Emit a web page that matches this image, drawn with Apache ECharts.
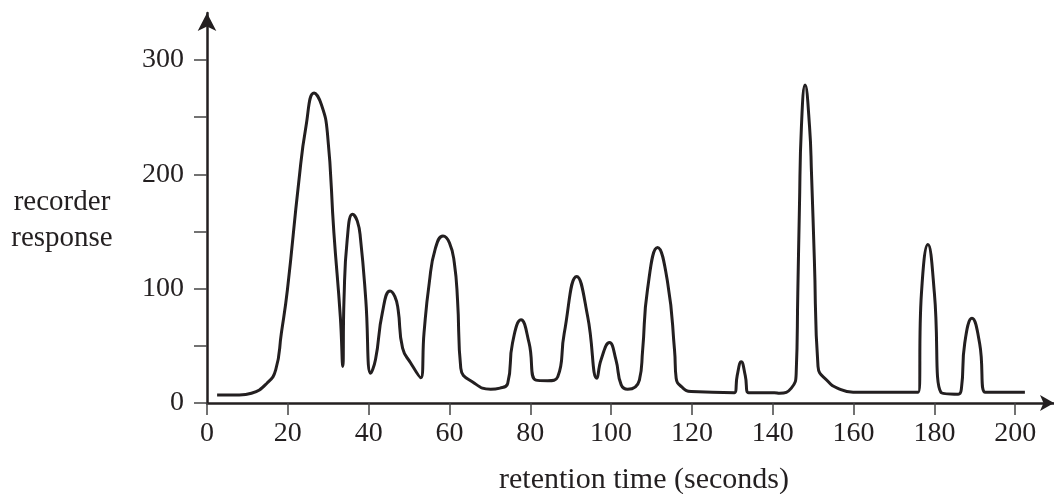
<!DOCTYPE html>
<html>
<head>
    <meta charset="utf-8">
    <script src="https://cdn.jsdelivr.net/npm/echarts@6/dist/echarts.min.js"></script>
    <style>
        html, body { margin: 0; padding: 0; background: #fff; }
        #chart { width: 1054px; height: 494px; }
    </style>
</head>
<body>
    <div id="chart"></div>
    <script type="text/javascript">
        // retention time (s) and recorder response
        var times = [
            2.5, 8, 11, 14.9, 17, 18.4, 19.9, 22.7, 24.5, 26.5, 28.3, 29.8, 31.4, 33, 33.6,
            33.9, 34.7, 36, 37.2, 38, 39.3, 40.5,
            41.7, 43.4, 45.3, 46.5, 47.3, 48.4, 50.4, 52.9,
            53.7, 55, 56.5, 58.4, 60, 61.2, 62, 62.8,
            66.1, 70.2, 72.5, 74.4,
            75.6, 77.7, 79.7, 81.4, 84.3, 86.8,
            88.4, 91.5, 94.2, 96.5,
            97.5, 99.6, 101.2, 102.5, 104.1, 107,
            107.8, 109, 111.5, 114, 115.7, 116.1, 117.5, 119.8, 130.5,
            131.2, 132.2, 133.2, 134, 140.4, 141.7, 144.6, 145.8,
            146.2, 146.6, 147.1, 148, 149.1, 149.6, 150.3, 151.2, 153.7, 156, 159.9, 176,
            176.8, 178.4, 180, 181.6, 185.9, 186.7, 187.5, 189.3, 191.2, 192.6, 202.4
        ];
        var response = [
            7, 7, 8.5, 17.5, 29, 61, 99, 193, 242, 271, 261, 236, 149, 75, 32,
            90, 143, 165, 159, 143, 90, 26,
            38, 79, 98, 93, 81.5, 48, 35, 22,
            61, 105, 135, 146, 140, 122.6, 90, 30.5,
            17.5, 12, 13, 17,
            52.5, 72.7, 52.5, 20, 19.5, 23,
            61, 110.7, 75.6, 21.6,
            37.7, 52.8, 37.7, 15.8, 12, 20,
            46, 99, 136, 105, 46, 21.6, 14, 10, 9,
            24, 36, 24, 9, 9, 8.5, 13, 26,
            96, 170, 242, 278, 242, 200, 125, 32, 18.7, 13, 9.4, 9.4,
            96, 138.5, 96, 9.3, 7.6, 13, 52, 74, 52, 9.4, 9.4
        ];
        var xTicks = [0, 20, 40, 60, 80, 100, 120, 140, 160, 180, 200];
        var yTicks = [0, 50, 100, 150, 200, 250, 300];
        var yLabels = [0, 100, 200, 300];

        var points = [];
        for (var i = 0; i < times.length; i++) {
            points.push([times[i], response[i]]);
        }

        var ink = '#231f20';
        var font = 'Liberation Serif';

        var myChart = echarts.init(document.getElementById('chart'));
        var option = {
            animation: false,
            backgroundColor: '#ffffff',
            grid: { left: 207, right: 0, top: 13, bottom: 91 },
            xAxis: {
                type: 'value',
                min: 0,
                max: 209.6,
                splitLine: { show: false },
                axisLine: {
                    show: true,
                    onZero: false,
                    symbol: ['none', 'arrow'],
                    symbolSize: [12, 14],
                    lineStyle: { color: ink, width: 2.5 }
                },
                axisTick: {
                    show: true,
                    length: 12,
                    customValues: xTicks,
                    lineStyle: { color: '#444', width: 1.5 }
                },
                axisLabel: {
                    customValues: xTicks,
                    margin: 17,
                    color: ink,
                    fontFamily: font,
                    fontSize: 28
                }
            },
            yAxis: {
                type: 'value',
                min: 0,
                max: 341,
                splitLine: { show: false },
                axisLine: {
                    show: true,
                    onZero: false,
                    symbol: ['none', 'arrow'],
                    symbolSize: [14, 18],
                    lineStyle: { color: ink, width: 2.5 }
                },
                axisTick: {
                    show: true,
                    length: 13,
                    customValues: yTicks,
                    lineStyle: { color: '#444', width: 1.5 }
                },
                axisLabel: {
                    customValues: yLabels,
                    margin: 23,
                    color: ink,
                    fontFamily: font,
                    fontSize: 28
                }
            },
            graphic: [
                {
                    type: 'text',
                    x: 62,
                    y: 220,
                    style: {
                        text: 'recorder\nresponse',
                        fill: ink,
                        font: '29px "Liberation Serif"',
                        lineHeight: 36,
                        textAlign: 'center',
                        textVerticalAlign: 'middle'
                    }
                },
                {
                    type: 'text',
                    x: 644,
                    y: 480,
                    style: {
                        text: 'retention time (seconds)',
                        fill: ink,
                        font: '30px "Liberation Serif"',
                        textAlign: 'center',
                        textVerticalAlign: 'middle'
                    }
                }
            ],
            series: [{
                type: 'line',
                data: points,
                showSymbol: false,
                smooth: 0.5,
                lineStyle: { color: ink, width: 3 }
            }]
        };
        myChart.setOption(option);
    </script>
</body>
</html>
